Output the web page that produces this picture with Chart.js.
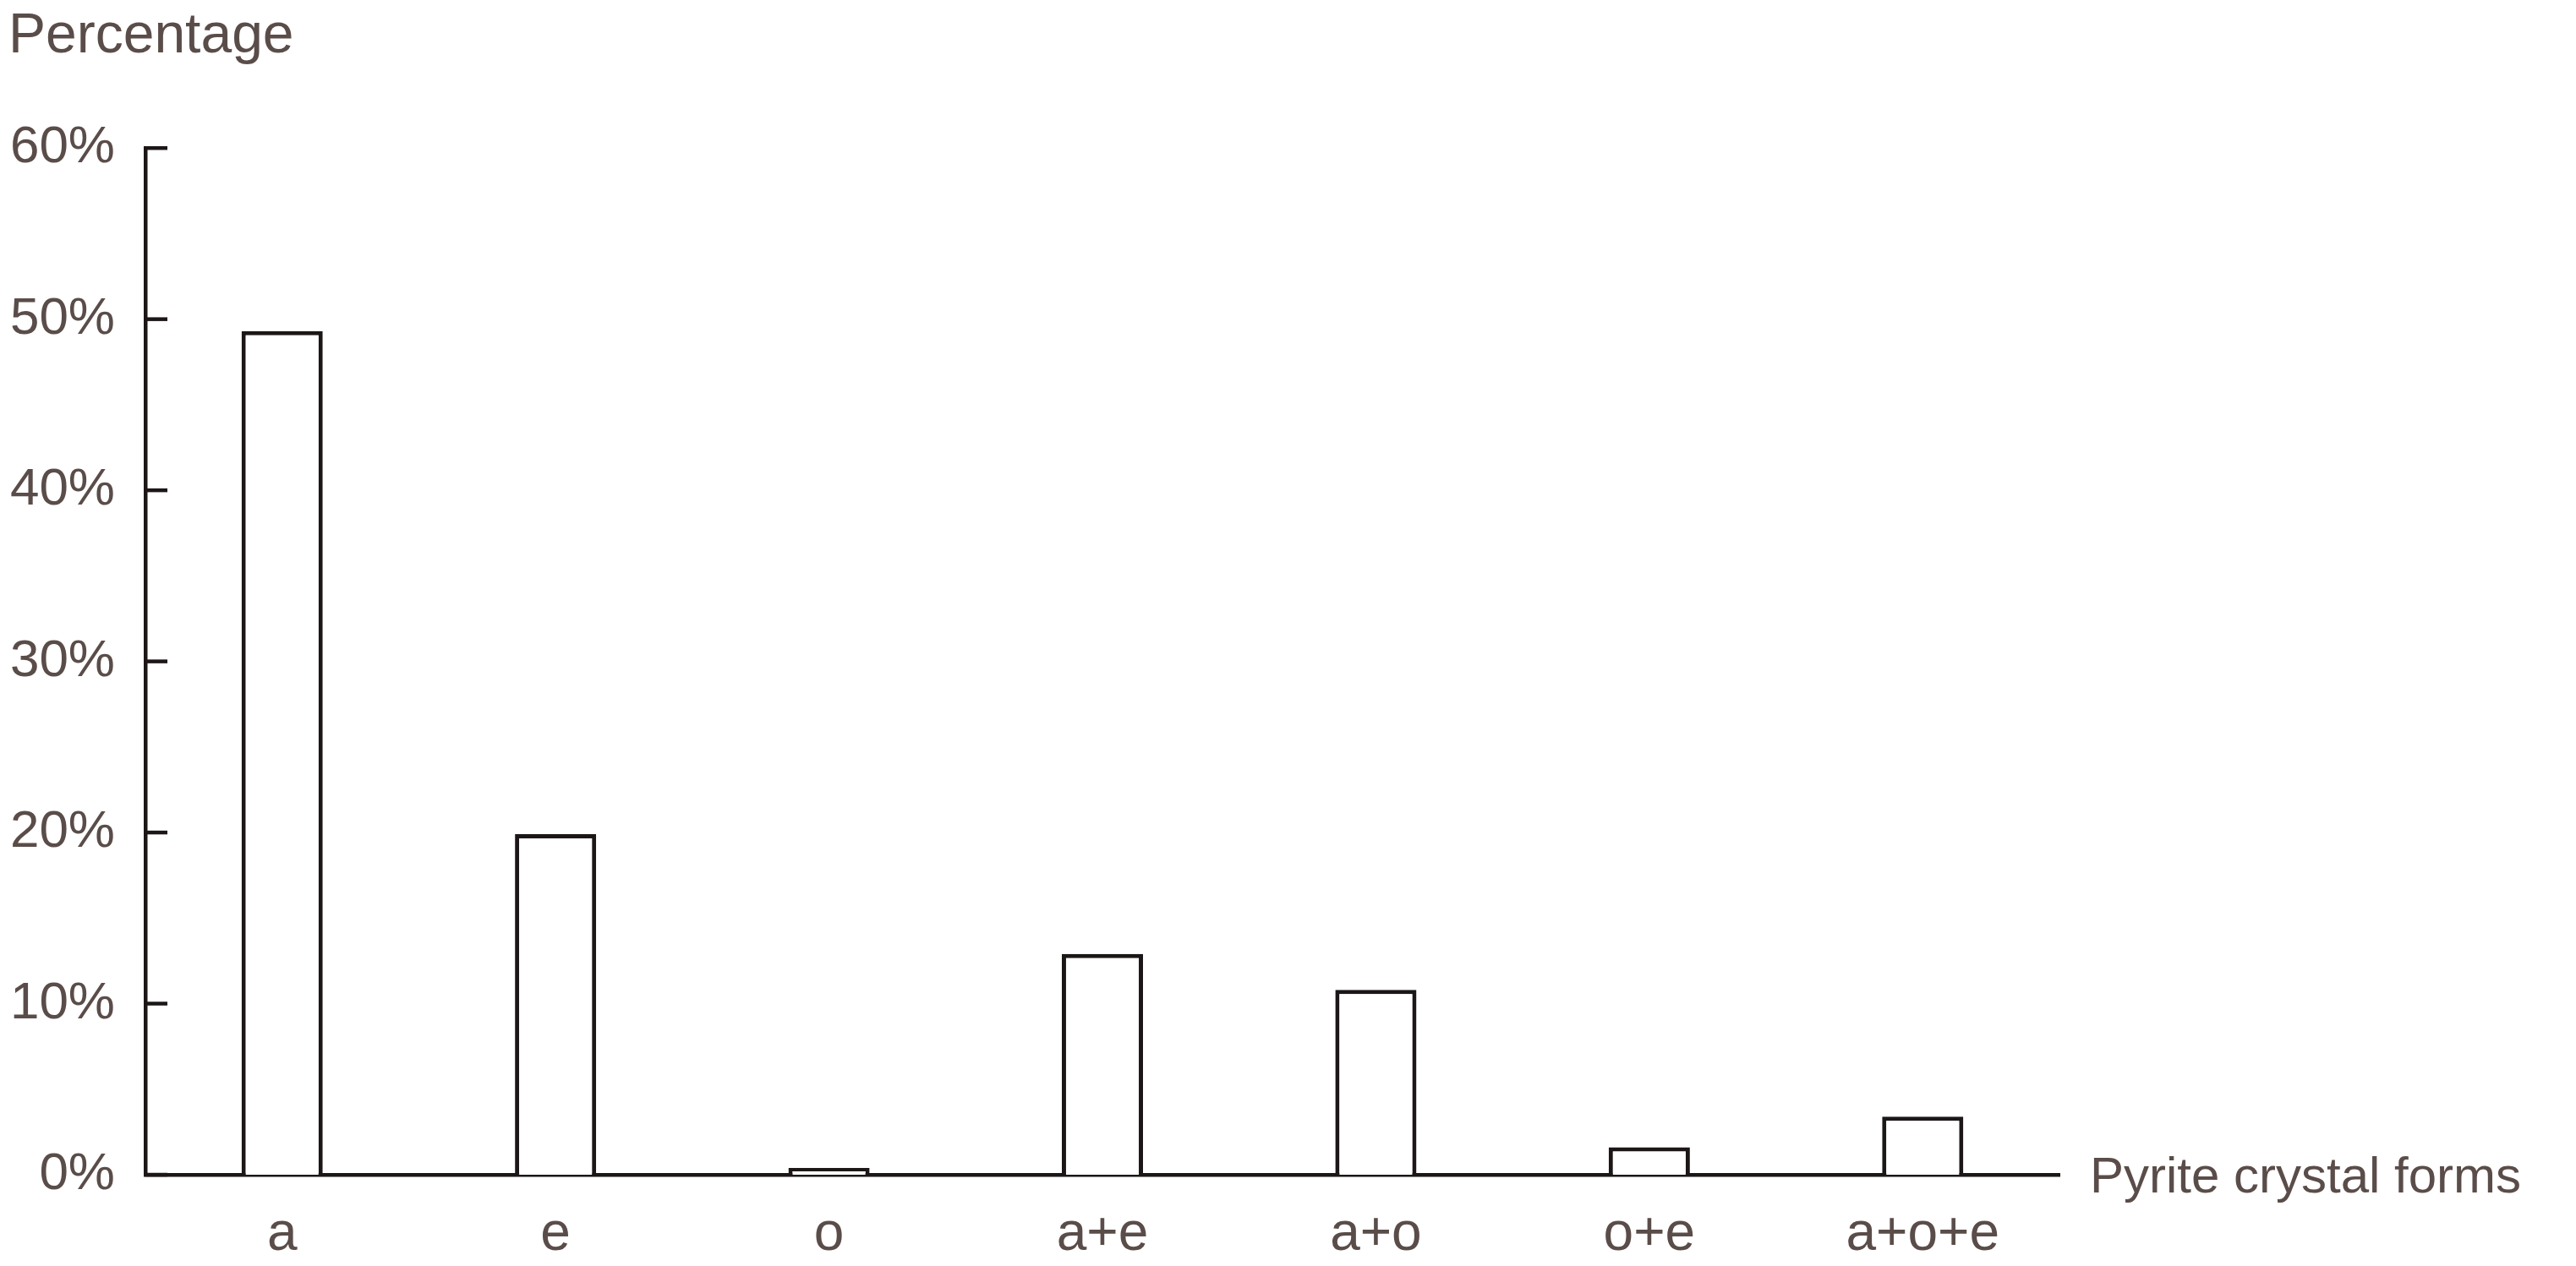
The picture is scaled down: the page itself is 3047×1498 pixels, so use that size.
<!DOCTYPE html>
<html>
<head>
<meta charset="utf-8">
<script src="https://cdn.jsdelivr.net/npm/chart.js@4"></script>
<style>
  body { margin: 0; background: #fff; }
  #wrap { width: 3047px; height: 1498px; position: relative; }
</style>
</head>
<body>
<div id="wrap"><canvas id="myChart"></canvas></div>
<script>
const categories = ['a', 'e', 'o', 'a+e', 'a+o', 'o+e', 'a+o+e']
const percentages = [49.3, 19.9, 0.4, 12.9, 10.8, 1.6, 3.4]
const yTickValues = [0, 10, 20, 30, 40, 50, 60]
const yTitle = 'Percentage'
const xTitle = 'Pyrite crystal forms'

const textColor = '#5a4d49'
const lineColor = '#1c1616'
const fontFamily = '"Liberation Sans", Arial, sans-serif'

// y ticks point inwards, and the x title sits at the right end of the axis
const extras = {
    id: 'extras',
    afterDraw(chart) {
        const ctx = chart.ctx
        const x = chart.scales.x
        const y = chart.scales.y
        ctx.save()
        ctx.strokeStyle = lineColor
        ctx.lineWidth = 4.5
        y.ticks.forEach(t => {
            const py = y.getPixelForValue(t.value)
            ctx.beginPath()
            ctx.moveTo(x.left, py)
            ctx.lineTo(x.left + 26, py)
            ctx.stroke()
        })
        ctx.fillStyle = textColor
        ctx.font = '60px ' + fontFamily
        ctx.textAlign = 'left'
        ctx.textBaseline = 'alphabetic'
        ctx.fillText(xTitle, x.right + 36, y.getPixelForValue(0) + 21)
        ctx.restore()
    }
}

const myChart = document.getElementById('myChart').getContext('2d')

const barChart = new Chart(myChart, {
    type: 'bar',
    data: {
        labels: categories,
        datasets: [{
            data: percentages,
            backgroundColor: '#ffffff',
            borderColor: lineColor,
            borderWidth: 5,
            barPercentage: 0.297,
            categoryPercentage: 1
        }]
    },
    options: {
        responsive: true,
        maintainAspectRatio: false,
        animation: false,
        layout: {
            padding: { left: 10, right: 611, top: 0, bottom: 0 }
        },
        plugins: {
            legend: { display: false },
            tooltip: { enabled: false },
            title: {
                display: true,
                text: yTitle,
                align: 'start',
                color: textColor,
                font: { family: fontFamily, size: 66, weight: 'normal' },
                padding: { top: 4, bottom: 92 }
            }
        },
        scales: {
            x: {
                offset: true,
                grid: { display: false, drawTicks: false },
                border: { display: true, color: lineColor, width: 4.5 },
                ticks: {
                    color: textColor,
                    padding: 33,
                    font: { family: fontFamily, size: 64 }
                },
                afterFit: s => { s.height = 108 }
            },
            y: {
                min: 0,
                max: 60,
                afterBuildTicks: s => { s.ticks = yTickValues.map(v => ({ value: v })) },
                grid: { display: false, drawTicks: false },
                border: { display: true, color: lineColor, width: 4.5 },
                ticks: {
                    color: textColor,
                    padding: 36,
                    font: { family: fontFamily, size: 62 },
                    callback: v => v + '%'
                },
                afterFit: s => { s.width = 162 }
            }
        }
    },
    plugins: [extras]
})
</script>
</body>
</html>
